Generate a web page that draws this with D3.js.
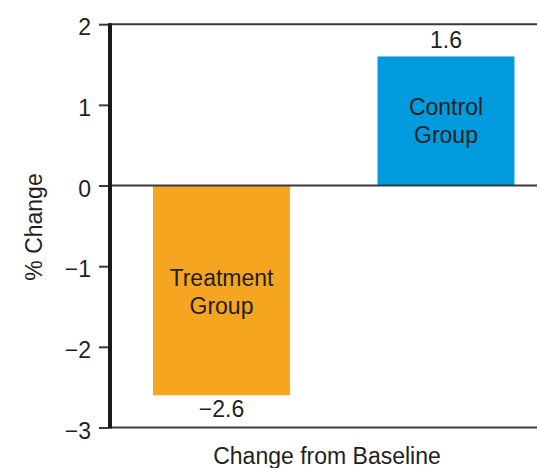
<!DOCTYPE html>
<html>
<head>
<meta charset="utf-8">
<script src="https://cdn.jsdelivr.net/npm/d3@7"></script>
<style>
  body { margin: 0; background: #fff; }
  text { font-family: "Liberation Sans", Arial, sans-serif; fill: #231f20; }
</style>
</head>
<body>
<div id="chart"></div>
<script>
// Chart data
const groups = ["Treatment Group", "Control Group"];
const changes = [-2.6, 1.6];
const valueLabels = ["\u22122.6", "1.6"];
const yTicks = [-3, -2, -1, 0, 1, 2];
const barColors = ["#f6a521", "#009bde"];

const width = 539, height = 468;
const fs = 23;

const svg = d3.select("#chart").append("svg")
  .attr("width", width)
  .attr("height", height);

const y = d3.scaleLinear()
  .domain([-3, 2])
  .range([427.5, 24.2]);

const x = d3.scaleBand()
  .domain(groups)
  .range([110, 537])
  .paddingInner(0.39)
  .paddingOuter(0.146)
  .align(0.656);

// horizontal frame lines (top, bottom)
svg.selectAll("line.hline")
  .data([2, -3])
  .join("line")
  .attr("class", "hline")
  .attr("x1", 108)
  .attr("x2", 537)
  .attr("y1", d => y(d))
  .attr("y2", d => y(d))
  .attr("stroke", "#3a3a3a")
  .attr("stroke-width", 2);

// Bars
svg.selectAll("rect.bar")
  .data(groups)
  .join("rect")
  .attr("class", "bar")
  .attr("x", d => x(d))
  .attr("width", x.bandwidth())
  .attr("y", (d, i) => y(Math.max(0, changes[i])))
  .attr("height", (d, i) => Math.abs(y(changes[i]) - y(0)))
  .attr("fill", (d, i) => barColors[i]);

// zero line on top of bars
svg.append("line")
  .attr("x1", 108).attr("x2", 537)
  .attr("y1", y(0)).attr("y2", y(0))
  .attr("stroke", "#3a3a3a")
  .attr("stroke-width", 2);

// y axis
const yAxis = svg.append("g")
  .attr("transform", "translate(108,0)")
  .call(d3.axisLeft(y)
    .tickValues(yTicks)
    .tickSize(9)
    .tickPadding(8)
    .tickFormat(d => d < 0 ? "\u2212" + Math.abs(d) : d));

yAxis.select(".domain").remove();
yAxis.selectAll(".tick line").attr("stroke", "#3a3a3a").attr("stroke-width", 2);
yAxis.selectAll(".tick text")
  .attr("font-size", fs)
  .attr("dy", "0.46em")
  .style("font-family", "Liberation Sans, Arial, sans-serif")
  .attr("fill", "#231f20");

// thick vertical axis line
svg.append("line")
  .attr("x1", 110).attr("x2", 110)
  .attr("y1", y(2) - 1).attr("y2", y(-3) + 1)
  .attr("stroke", "#1a1a1a")
  .attr("stroke-width", 4);

// value labels
svg.selectAll("text.value")
  .data(groups)
  .join("text")
  .attr("class", "value")
  .attr("x", d => x(d) + x.bandwidth() / 2)
  .attr("y", (d, i) => changes[i] < 0 ? y(changes[i]) + 22 : y(changes[i]) - 8)
  .attr("text-anchor", "middle")
  .attr("font-size", fs)
  .text((d, i) => valueLabels[i]);

// group labels inside bars
groups.forEach((g, i) => {
  const words = g.split(" ");
  const base = changes[i] < 0 ? 286 : 115;
  const t = svg.append("text")
    .attr("text-anchor", "middle")
    .attr("font-size", fs);
  words.forEach((w, j) => {
    t.append("tspan")
      .attr("x", x(g) + x.bandwidth() / 2)
      .attr("y", base + j * 27.5)
      .text(w);
  });
});

// axis titles
svg.append("text")
  .attr("x", 327)
  .attr("y", 464)
  .attr("text-anchor", "middle")
  .attr("font-size", fs)
  .text("Change from Baseline");

svg.append("text")
  .attr("transform", "translate(42,227) rotate(-90)")
  .attr("text-anchor", "middle")
  .attr("font-size", fs)
  .text("% Change");
</script>
</body>
</html>
